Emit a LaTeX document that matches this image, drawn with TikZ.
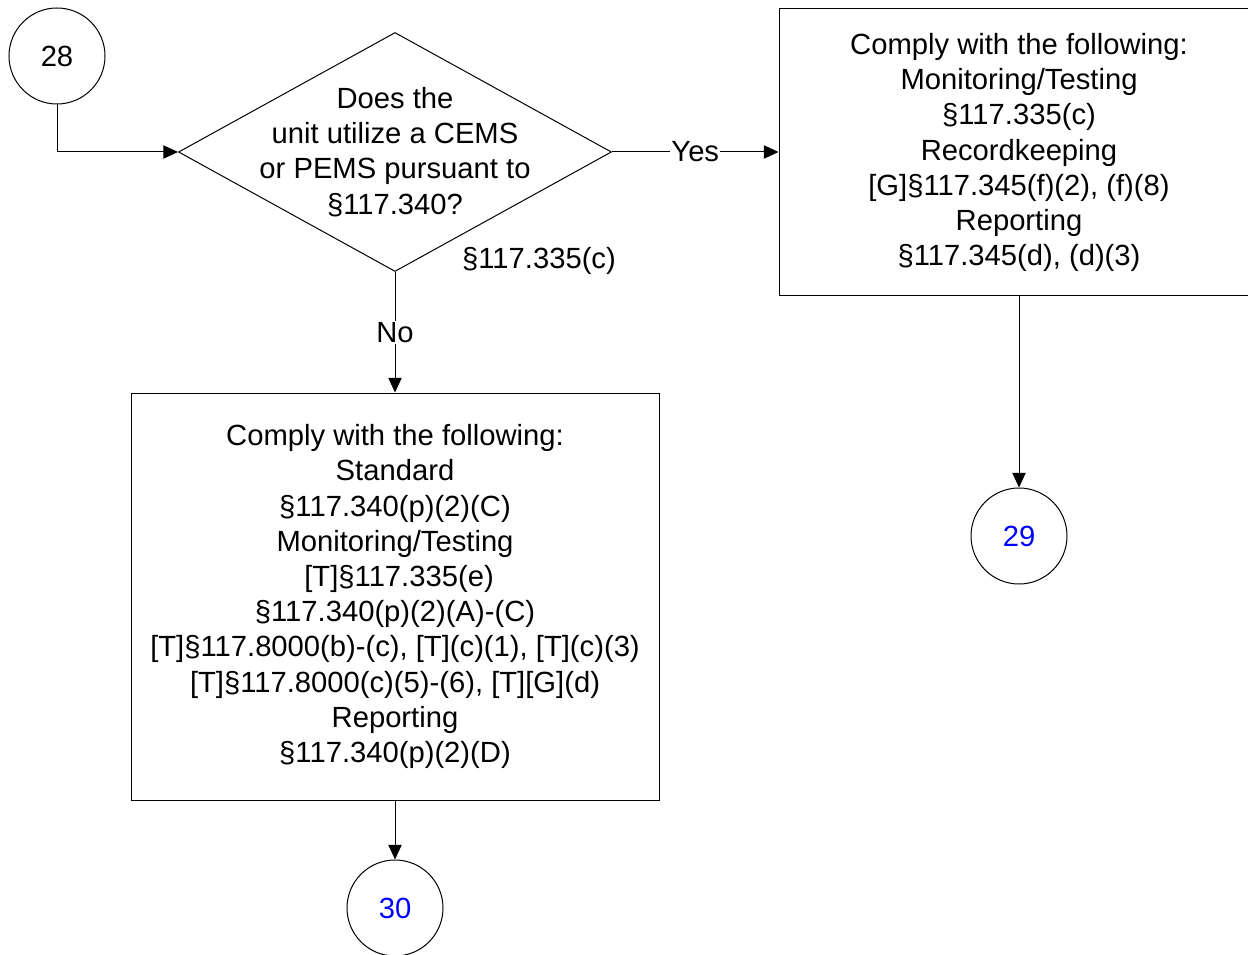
\documentclass[tikz,border=0pt]{standalone}
\usepackage{fontspec}
\setmainfont{Liberation Sans}
\usetikzlibrary{shapes.geometric,arrows.meta}
\definecolor{linkblue}{RGB}{0,0,255}

\begin{document}
\begin{tikzpicture}[x=0.75pt, y=-0.75pt, line width=0.75pt,
    font=\fontsize{21.9pt}{26.4pt}\selectfont,
    conn/.style={draw, -{Triangle[length=11pt, width=10pt]}},
    offpage/.style={draw, circle, minimum size=72pt, inner sep=0pt},
    box/.style={draw, rectangle, align=center, inner sep=0pt},
    tag/.style={fill=white, inner sep=1pt}]
    \useasboundingbox (0, 0) rectangle (1248, 955);

    % Entry connector
    \node [offpage] (c28) at (57, 56) {28};

    % Decision
    \node [draw, diamond, inner sep=0pt, minimum width=324.75pt,
           minimum height=179.25pt] (q) at (395, 152) {};
    \node [align=center] (qtext) at (q.center)
          {Does the\\unit utilize a CEMS\\or PEMS pursuant to\\§117.340?};
    \node (cite) at (539, 261) {§117.335(c)};

    % Yes branch
    \node [box, minimum width=360pt, minimum height=215.25pt] (yesbox)
          at (1019, 152.5)
          {Comply with the following:\\Monitoring/Testing\\§117.335(c)\\
           Recordkeeping\\{[G]}§117.345(f)(2), (f)(8)\\Reporting\\
           §117.345(d), (d)(3)};
    \node [offpage, text=linkblue] (c29) at (1019, 536) {29};

    % No branch
    \node [box, minimum width=396pt, minimum height=305.25pt] (nobox)
          at (395, 596.5)
          {Comply with the following:\\Standard\\§117.340(p)(2)(C)\\
           Monitoring/Testing\\{ [T]}§117.335(e)\\§117.340(p)(2)(A)-(C)\\
           {[T]}§117.8000(b)-(c), [T](c)(1), [T](c)(3)\\
           {[T]}§117.8000(c)(5)-(6), [T][G](d)\\Reporting\\
           §117.340(p)(2)(D)};
    \node [offpage, text=linkblue] (c30) at (395, 908) {30};

    % Connections
    \draw [conn] (c28.south) |- (q.west);
    \draw [conn] (q.east) -- node [tag] {Yes} (yesbox.west |- q.east);
    \draw [conn] (q.south) -- node [tag] {No} (nobox.north);
    \draw [conn] (yesbox.south) -- (c29.north);
    \draw [conn] (nobox.south) -- (c30.north);

\end{tikzpicture}
\end{document}
